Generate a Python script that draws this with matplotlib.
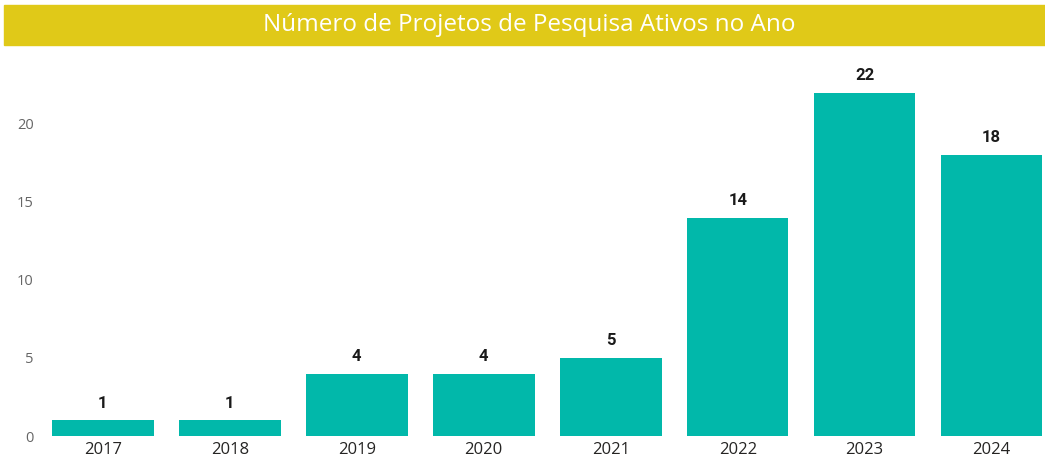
import matplotlib.pyplot as plt
from matplotlib.patches import Rectangle

# projetos de pesquisa ativos por ano
anos = ['2017', '2018', '2019', '2020', '2021', '2022', '2023', '2024']
projetos = [1, 1, 4, 4, 5, 14, 22, 18]
yticks = [0, 5, 10, 15, 20]

W, H = 1045, 466
fig = plt.figure(figsize=(W / 100, H / 100), dpi=100)

# faixa amarela do titulo
fig.patches.append(Rectangle((4 / W, 1 - 45 / H), 1 - 4 / W, 40 / H,
                             transform=fig.transFigure, color='#E0C918', zorder=0))
fig.text(529 / W, 1 - 25 / H, 'Número de Projetos de Pesquisa Ativos no Ano',
         ha='center', va='center', color='white', fontsize=17.5, family='Open Sans')

ax = fig.add_axes([45 / W, 1 - 436 / H, 1 - 45 / W, (436 - 60) / H])
x = range(len(anos))
bars = ax.bar(x, projetos, width=0.8, color='#01B8AA')
for xi, v in zip(x, projetos):
    ax.annotate(str(v), (xi, v), xytext=(0, 7), textcoords='offset points',
                ha='center', va='bottom', fontsize=12, fontweight='bold',
                family='Roboto', color='#1a1a1a')

ax.set_xlim(-0.455, 7.42)
ax.set_ylim(0, 24.1)
ax.set_xticks(list(x))
ax.set_xticklabels(anos, fontsize=12, color='#252423', family='Open Sans')
ax.set_yticks(yticks)
ax.set_yticklabels([str(t) for t in yticks], fontsize=10.5, color='#666666', family='Open Sans')
ax.tick_params(axis='both', length=0)
ax.tick_params(axis='x', pad=4)
ax.tick_params(axis='y', pad=8)
for s in ax.spines.values():
    s.set_visible(False)

fig.savefig('out.png', dpi=100)
